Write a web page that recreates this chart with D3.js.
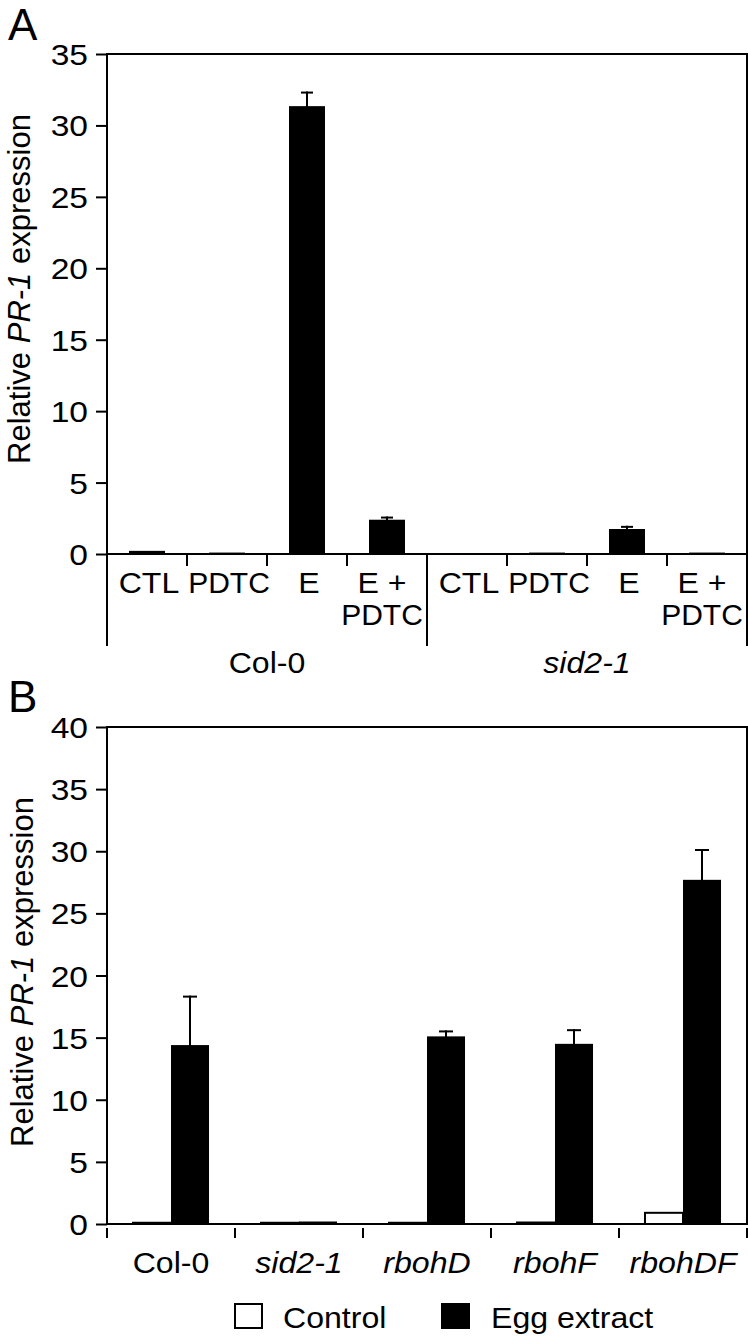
<!DOCTYPE html>
<html>
<head>
<meta charset="utf-8">
<script src="https://cdn.jsdelivr.net/npm/d3@7"></script>
<style>
html,body{margin:0;padding:0;background:#fff;}
svg{display:block;}
text{font-family:"Liberation Sans",Arial,Helvetica,sans-serif;fill:#000;}
</style>
</head>
<body>
<svg id="chart" width="748" height="1336"></svg>
<script>
// ---------- Data ----------
const groupsA = ["Col-0", "sid2-1"];
const treatmentsA = ["CTL", "PDTC", "E", "E + PDTC"];
const col0ValuesA = [0.22, 0.1, 31.35, 2.4];
const col0ErrorsA = [0.03, 0.02, 0.95, 0.15];
const sid2ValuesA = [0.05, 0.1, 1.75, 0.1];
const sid2ErrorsA = [0.01, 0.02, 0.15, 0.04];
const yTicksA = [0, 5, 10, 15, 20, 25, 30, 35];

const genotypesB = ["Col-0", "sid2-1", "rbohD", "rbohF", "rbohDF"];
const seriesB = ["Control", "Egg extract"];
const controlValuesB = [0.1, 0.1, 0.1, 0.12, 0.9];
const eggValuesB = [14.4, 0.2, 15.1, 14.5, 27.7];
const eggErrorsB = [3.9, 0.04, 0.4, 1.1, 2.4];
const yTicksB = [0, 5, 10, 15, 20, 25, 30, 35, 40];
const italicB = [false, true, true, true, true];

const yLabelMain = "Relative ";
const yLabelGene = "PR-1";
const yLabelEnd = " expression";

// ---------- Setup ----------
const svg = d3.select("#chart");
const FS = 30;
const SX = 1.07;
const LW = 2;

function stxt(parent, x, y, str, anchor, opts = {}) {
  const sx = opts.sx || SX;
  const t = parent.append("text")
    .attr("transform", `translate(${x},${y}) scale(${sx},1)`)
    .attr("x", 0).attr("y", 0)
    .attr("text-anchor", anchor).attr("font-size", opts.fs || FS);
  if (opts.italic) t.attr("font-style", "italic");
  t.text(str);
  return t;
}

function yLabel(x, y) {
  const t = svg.append("text").attr("transform", `translate(${x},${y}) rotate(-90)`)
    .attr("text-anchor", "middle").attr("font-size", 31);
  t.append("tspan").text(yLabelMain);
  t.append("tspan").attr("font-style", "italic").text(yLabelGene);
  t.append("tspan").text(yLabelEnd);
}

function line(x1, y1, x2, y2, w = LW) {
  svg.append("line").attr("x1", x1).attr("y1", y1).attr("x2", x2).attr("y2", y2)
    .attr("stroke", "#000").attr("stroke-width", w).attr("stroke-linecap", "square");
}

// ================= Panel A =================
const left = 107, right = 747;
const yA = d3.scaleLinear().domain([0, 35]).range([554, 54]);
const catsA = [];
groupsA.forEach(g => treatmentsA.forEach(t => catsA.push(g + "|" + t)));
const valsA = col0ValuesA.concat(sid2ValuesA);
const errsA = col0ErrorsA.concat(sid2ErrorsA);
const xA = d3.scaleBand().domain(catsA).range([left, right]).paddingInner(0.55).paddingOuter(0.275);
const stepA = xA.step();

svg.append("text").attr("x", 8).attr("y", 40).attr("font-size", 44).text("A");

const axA = svg.append("g").attr("transform", `translate(${left},0)`)
  .call(d3.axisLeft(yA).tickValues(yTicksA).tickSize(11).tickFormat(""));
axA.select(".domain").remove();
axA.selectAll(".tick line").attr("stroke-width", LW);
yTicksA.forEach(v => stxt(svg, 88, yA(v) + 11, String(v), "end", { sx: 1.12 }));

catsA.forEach((c, i) => {
  const x = xA(c), w = xA.bandwidth();
  svg.append("rect").attr("x", x).attr("y", yA(valsA[i])).attr("width", w)
    .attr("height", yA(0) - yA(valsA[i])).attr("fill", "#000");
  const cx = x + w / 2, top = yA(valsA[i] + errsA[i]);
  if (yA(valsA[i]) - top > 1.5) {
    line(cx, yA(valsA[i]), cx, top);
    line(cx - 5, top, cx + 5, top);
  }
});

line(left, 54, right, 54);
line(left, 54, left, 645);
line(right, 54, right, 645);
line(left, 554, right, 554);
catsA.forEach((c, i) => {
  if (i === 0) return;
  const x = xA(c) - (stepA - xA.bandwidth()) / 2;
  if (i % 4 === 0) line(x, 554, x, 645);
  else line(x, 554, x, 565);
});
catsA.forEach((c, i) => {
  const t = treatmentsA[i % 4];
  const cx = xA(c) + xA.bandwidth() / 2;
  if (t === "E + PDTC") {
    stxt(svg, cx - 5, 593, "E +", "middle");
    stxt(svg, cx - 5, 625, "PDTC", "middle", { sx: 1.0 });
  } else {
    stxt(svg, cx + 2, 593, t, "middle", { sx: t === "PDTC" ? 1.0 : SX });
  }
});
groupsA.forEach((g, gi) => {
  const cx = left + (gi + 0.5) * (right - left) / groupsA.length;
  stxt(svg, cx, 673, g, "middle", { italic: gi === 1 });
});
yLabel(30, 289);

// ================= Panel B =================
const yB = d3.scaleLinear().domain([0, 40]).range([1224, 727]);
const xB = d3.scaleBand().domain(genotypesB).range([left, right]).paddingInner(0.406).paddingOuter(0.203);
const xSub = d3.scaleBand().domain(seriesB).range([0, xB.bandwidth()]).padding(0);

svg.append("text").attr("x", 8).attr("y", 712).attr("font-size", 44).text("B");

const axB = svg.append("g").attr("transform", `translate(${left},0)`)
  .call(d3.axisLeft(yB).tickValues(yTicksB).tickSize(11).tickFormat(""));
axB.select(".domain").remove();
axB.selectAll(".tick line").attr("stroke-width", LW);
yTicksB.forEach(v => stxt(svg, 88, yB(v) + 11, String(v), "end", { sx: 1.12 }));

genotypesB.forEach((g, i) => {
  const gx = xB(g);
  const cv = controlValuesB[i];
  svg.append("rect").attr("x", gx + xSub("Control")).attr("y", yB(cv))
    .attr("width", xSub.bandwidth()).attr("height", yB(0) - yB(cv))
    .attr("fill", "#fff").attr("stroke", "#000").attr("stroke-width", LW);
  const ev = eggValuesB[i];
  const ex = gx + xSub("Egg extract");
  svg.append("rect").attr("x", ex).attr("y", yB(ev))
    .attr("width", xSub.bandwidth()).attr("height", yB(0) - yB(ev)).attr("fill", "#000");
  const cx = ex + xSub.bandwidth() / 2, top = yB(ev + eggErrorsB[i]);
  if (yB(ev) - top > 1.5) {
    line(cx, yB(ev), cx, top);
    line(cx - 6, top, cx + 6, top);
  }
});

line(left, 727, right, 727);
line(left, 727, left, 1224);
line(right, 727, right, 1224);
line(left, 1224, right, 1224);
const stepB = xB.step();
for (let i = 0; i <= genotypesB.length; i++) {
  const x = left + i * stepB;
  line(x, 1229, x, 1237);
}
genotypesB.forEach((g, i) => {
  const cx = xB(g) + xB.bandwidth() / 2;
  stxt(svg, cx, 1273, g, "middle", { italic: italicB[i] });
});
yLabel(33, 972);

svg.append("rect").attr("x", 235).attr("y", 1304).attr("width", 27).attr("height", 24)
  .attr("fill", "#fff").attr("stroke", "#000").attr("stroke-width", LW);
stxt(svg, 283, 1328, seriesB[0], "start");
svg.append("rect").attr("x", 441).attr("y", 1303).attr("width", 29).attr("height", 26).attr("fill", "#000");
stxt(svg, 491, 1328, seriesB[1], "start");
</script>
</body>
</html>
